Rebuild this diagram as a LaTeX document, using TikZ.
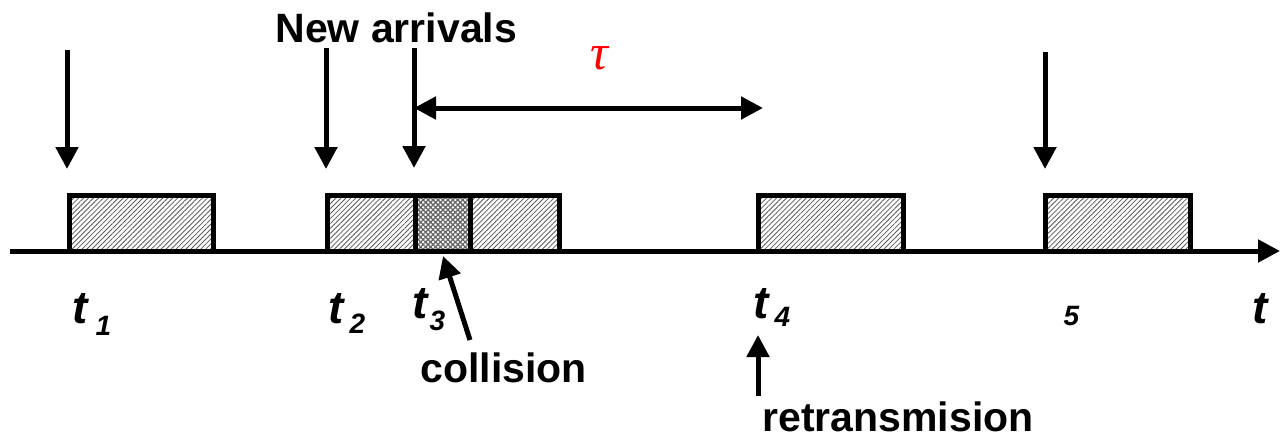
\documentclass[tikz,border=0pt]{standalone}
\usepackage{fontspec}
\setmainfont{Liberation Sans}
\newfontfamily\greekserif{Liberation Serif}
\usetikzlibrary{arrows.meta,patterns,patterns.meta}
\begin{document}
\begin{tikzpicture}[x=1pt,y=-1pt,
  line width=5pt,
  tip/.style={-{Triangle[length=22pt,width=22pt]}},
  twotips/.style={{Triangle[length=22pt,width=22pt]}-{Triangle[length=22pt,width=22pt]}},
  pkt/.style={draw, line width=5pt, inner sep=0pt, outer sep=0pt, anchor=north west,
    minimum height=56pt,
    pattern={Lines[angle=45,distance=3.5pt,line width=0.8pt]}, pattern color=black!65},
  hit/.style={draw, line width=5pt, inner sep=0pt, outer sep=0pt, anchor=north west,
    minimum height=56pt,
    pattern={Hatch[angle=45,distance=3.5pt,line width=1.3pt]}, pattern color=black!60},
  lab/.style={font=\bfseries\fontsize{41}{44}\selectfont, inner sep=0pt, anchor=base west},
  tl/.style={font=\bfseries\itshape\fontsize{46}{48}\selectfont, inner sep=0pt, anchor=base west},
  sub/.style={font=\bfseries\itshape\fontsize{28}{30}\selectfont, inner sep=0pt, anchor=base west}]
\useasboundingbox (0,0) rectangle (1281,440);

% packets on the channel
\node[pkt, minimum width=143.5pt] (p1) at (69.5,195) {};
\node[pkt, minimum width=87.5pt]  (p2) at (327.5,195) {};
\node[hit, minimum width=55pt]    (pc) at (415,195) {};
\node[pkt, minimum width=89pt]    (p3) at (470,195) {};
\node[pkt, minimum width=145pt]   (p4) at (758,195) {};
\node[pkt, minimum width=145pt]   (p5) at (1045,195) {};

% time axis
\coordinate (ax0) at (10,251);
\coordinate (ax1) at (1280,251);
\draw[tip] (ax0) -- (ax1);

% arrival arrows
\coordinate (a1s) at (67,50);   \coordinate (a1e) at (67,169);
\coordinate (a2s) at (326,48);  \coordinate (a2e) at (326,169);
\coordinate (a3s) at (414,48);  \coordinate (a3e) at (414,168);
\coordinate (a5s) at (1045,52); \coordinate (a5e) at (1045,169);
\draw[tip] (a1s) -- (a1e);
\draw[tip] (a2s) -- (a2e);
\draw[tip] (a3s) -- (a3e);
\draw[tip] (a5s) -- (a5e);

% backoff interval
\coordinate (tauL) at (414,108);
\coordinate (tauR) at (763,108);
\draw[twotips] (tauL) -- (tauR);
\node[text=red, font=\greekserif\itshape\fontsize{50}{52}\selectfont, inner sep=0pt] (tau) at (599,58) {τ};

% labels
\node[lab] (arr) at (273,42) {New arrivals};
\node[lab] (col) at (418,382) {collision};
\node[lab] (ret) at (760,431) {retransmision};

\coordinate (cs) at (470,340);
\coordinate (ce) at (443,256);
\draw[tip] (cs) -- (ce);
\coordinate (rs) at (758,396);
\coordinate (re) at (758,335);
\draw[tip] (rs) -- (re);

% time instants
\node[tl]  (t1)  at (70,323) {t};
\node[sub] (t1s) at (93,335) {1};
\node[tl]  (t2)  at (326,323) {t};
\node[sub] (t2s) at (347,333) {2};
\node[tl]  (t3)  at (410,318) {t};
\node[sub] (t3s) at (427,330) {3};
\node[tl]  (t4)  at (751,318) {t};
\node[sub] (t4s) at (772,326) {4};
\node[sub] (t5s) at (1061,325) {5};
\node[tl]  (tt)  at (1250,323) {t};
\end{tikzpicture}
\end{document}
